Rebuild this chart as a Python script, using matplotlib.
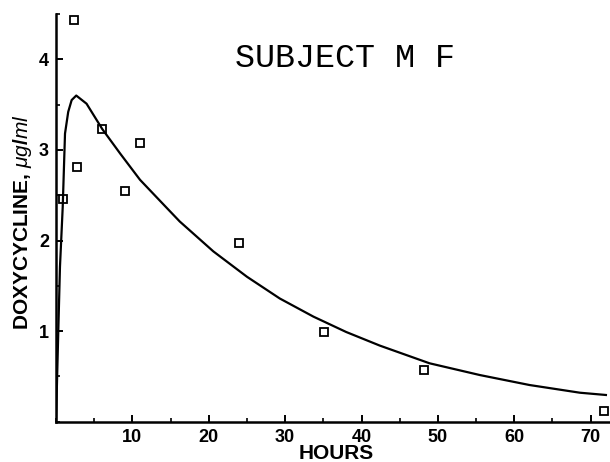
import matplotlib
matplotlib.use("Agg")
import matplotlib.pyplot as plt
from matplotlib.ticker import MultipleLocator

# ============================================
# Data
# ============================================

# measured serum levels (open squares)
hours = [0.9, 2.3, 2.8, 6.0, 9.0, 11.0, 23.9, 35.1, 48.2, 71.8]
conc = [2.46, 4.43, 2.81, 3.23, 2.55, 3.08, 1.97, 0.99, 0.57, 0.12]

# fitted curve, points
curve_h = [0.0, 0.15, 0.3, 0.52, 0.88, 1.18, 1.6, 2.05, 2.65, 4.0, 6.06, 8.4,
           11.0, 14.5, 16.2, 20.6, 25.0, 29.3, 33.7, 38.0, 42.4, 48.9, 55.5,
           62.0, 68.6, 72.0]
curve_c = [0.0, 0.5, 1.0, 1.71, 2.37, 3.18, 3.42, 3.55, 3.6, 3.51, 3.23, 2.96,
           2.67, 2.36, 2.21, 1.88, 1.60, 1.36, 1.16, 0.99, 0.84, 0.645, 0.515,
           0.405, 0.32, 0.295]

x_ticks = [10, 20, 30, 40, 50, 60, 70]
y_ticks = [1, 2, 3, 4]

# ============================================
# Plot
# ============================================

plt.rcParams["font.family"] = ["Liberation Sans", "DejaVu Sans"]
plt.rcParams["mathtext.fontset"] = "custom"
plt.rcParams["mathtext.it"] = "Liberation Sans:italic"
plt.rcParams["mathtext.rm"] = "Liberation Sans:bold"

fig = plt.figure(figsize=(6.1, 4.62), dpi=100)
ax = fig.add_axes([0.0918, 0.0872, 0.909, 0.8825])

ax.plot(curve_h, curve_c, color="black", linewidth=1.6, zorder=2,
        solid_joinstyle="round")
ax.plot(hours, conc, linestyle="none", marker="s", markersize=5.5,
        markerfacecolor="none", markeredgecolor="black",
        markeredgewidth=1.3, clip_on=False, zorder=3)

ax.set_xlim(0, 72.6)
ax.set_ylim(0, 4.5)

for side in ["top", "right"]:
    ax.spines[side].set_visible(False)
for side in ["left", "bottom"]:
    ax.spines[side].set_linewidth(1.8)

ax.set_xticks(x_ticks)
ax.set_yticks(y_ticks)
ax.xaxis.set_minor_locator(MultipleLocator(5))
ax.yaxis.set_minor_locator(MultipleLocator(0.5))
ax.tick_params(which="major", direction="in", length=5, width=1.4,
               labelsize=13, pad=5)
ax.tick_params(which="minor", direction="in", length=3, width=1.2)
for lbl in ax.get_xticklabels() + ax.get_yticklabels():
    lbl.set_fontweight("bold")

ax.set_xlabel("HOURS", fontsize=15, fontweight="bold")
ax.xaxis.label.set_va("center")
ax.xaxis.set_label_coords(0.505, -0.078)

ax.set_ylabel(r"DOXYCYCLINE, $\mathit{μg}$/$\mathit{ml}$", fontsize=15,
              fontweight="bold")
ax.yaxis.label.set_va("center")
ax.yaxis.set_label_coords(-0.060, 0.49)

ax.text(23.4, 3.92, "SUBJECT M F", fontsize=24, family="Liberation Mono",
        ha="left", va="baseline")

plt.savefig("out.png", dpi=100)
